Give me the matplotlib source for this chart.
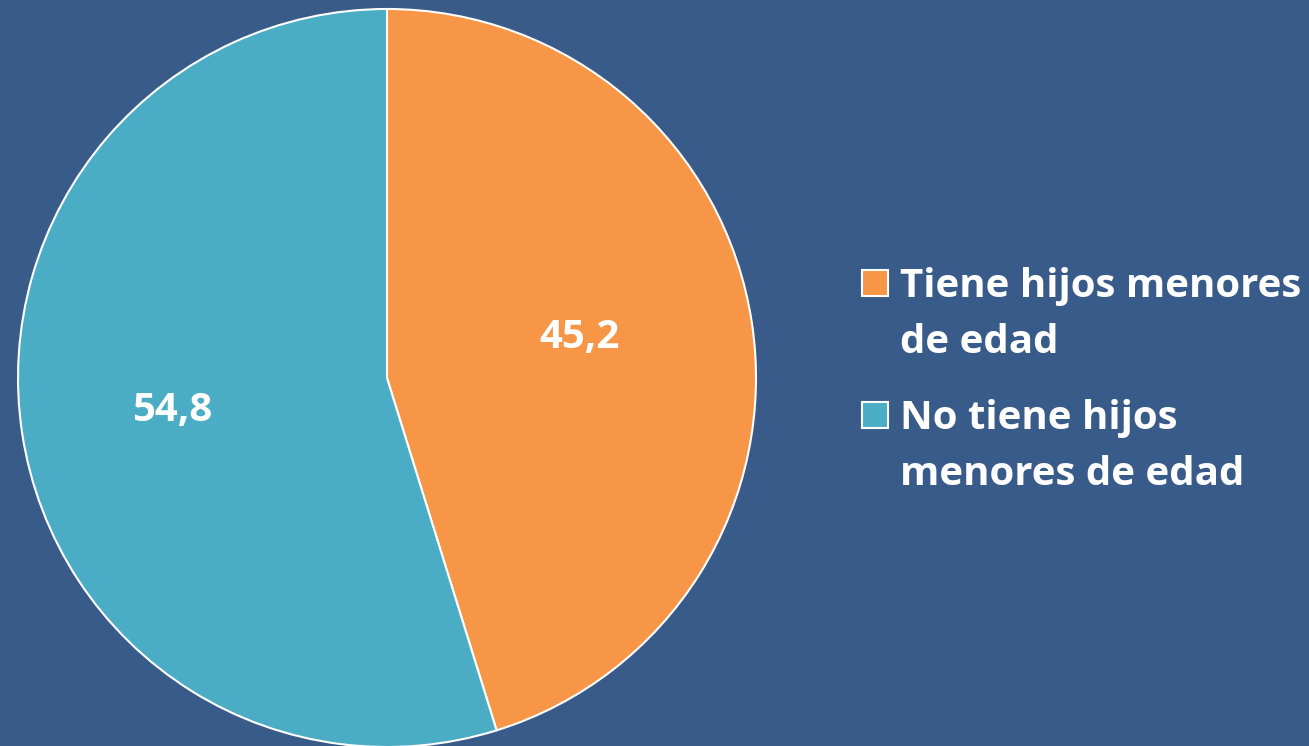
import matplotlib.pyplot as plt
from matplotlib.patches import Rectangle

# Data
labels = ['Tiene hijos menores\nde edad', 'No tiene hijos\nmenores de edad']
values = [45.2, 54.8]
colors = ['#F79646', '#4BACC6']
bg = '#395B8A'

plt.rcParams['font.family'] = ['Open Sans', 'DejaVu Sans']

fig = plt.figure(figsize=(13.09, 7.46), dpi=100, facecolor=bg)
W, H = 1309, 746
cx, cy, r = 387, 378, 369
ax = fig.add_axes([(cx - r) / W, (H - cy - r) / H, 2 * r / W, 2 * r / H])
ax.set_facecolor(bg)

wedges, texts, autotexts = ax.pie(
    values, colors=colors, startangle=90, counterclock=False,
    autopct=lambda p: f'{p:.1f}'.replace('.', ','), pctdistance=0.56,
    wedgeprops=dict(edgecolor='white', linewidth=1.5),
    textprops=dict(color='white', fontsize=29, fontweight='bold'))
# nudge value labels to where the original puts them
label_pos = [(0.523, 0.111), (-0.583, -0.087)]
for t, (x, y) in zip(autotexts, label_pos):
    t.set_position((x, y))
ax.set_xlim(-1, 1)
ax.set_ylim(-1, 1)
ax.set_aspect('equal')
ax.axis('off')

# legend drawn by hand: square beside first line of each label
box_top = [270, 402]
for c, lab, top in zip(colors, labels, box_top):
    fig.patches.append(Rectangle((862 / W, 1 - (top + 26) / H), 26 / W, 26 / H,
                                 transform=fig.transFigure, facecolor=c,
                                 edgecolor='white', linewidth=1.5))
    fig.text(900 / W, 1 - (top - 3) / H, lab, color='white', fontsize=29,
             fontweight='bold', va='top', ha='left', linespacing=1.58)

fig.savefig('out.png', dpi=100, facecolor=bg)
